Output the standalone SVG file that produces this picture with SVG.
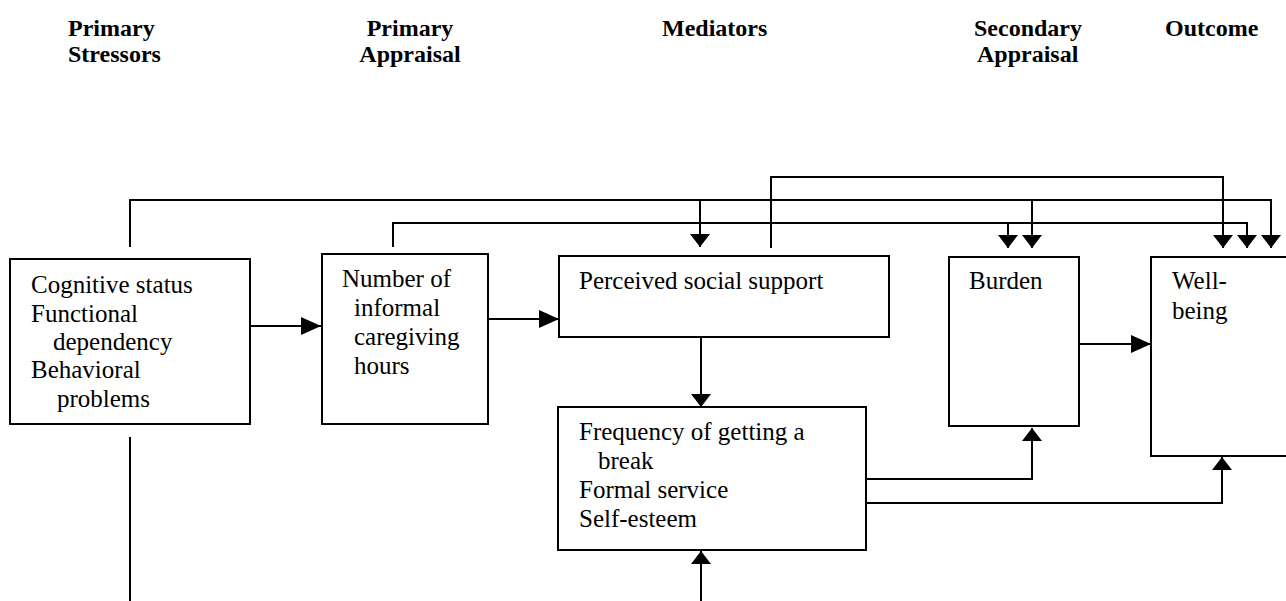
<svg xmlns="http://www.w3.org/2000/svg" width="1286" height="601" viewBox="0 0 1286 601">
<style>
.hd{font-family:"Liberation Serif","Times New Roman",serif;font-weight:bold;font-size:24px;fill:#000}
.tx{font-family:"Liberation Serif","Times New Roman",serif;font-size:25px;fill:#000}
.box{fill:#fff;stroke:#000;stroke-width:2}
.ln{fill:none;stroke:#000;stroke-width:2}
</style>
<defs>
<marker id="mh" markerUnits="userSpaceOnUse" markerWidth="20" markerHeight="18" viewBox="0 0 20 18" refX="20" refY="9" orient="auto"><path d="M0,0L20,9L0,18z" fill="#000"/></marker>
<marker id="mv" markerUnits="userSpaceOnUse" markerWidth="13" markerHeight="20" viewBox="0 0 13 20" refX="13" refY="10" orient="auto"><path d="M0,0L13,10L0,20z" fill="#000"/></marker>
</defs>
<g id="headers">
<text class="hd" x="68" y="36">Primary</text>
<text class="hd" x="68" y="62">Stressors</text>
<text class="hd" x="410" y="36" text-anchor="middle">Primary</text>
<text class="hd" x="410" y="62" text-anchor="middle">Appraisal</text>
<text class="hd" x="662" y="36">Mediators</text>
<text class="hd" x="974" y="36">Secondary</text>
<text class="hd" x="977" y="62">Appraisal</text>
<text class="hd" x="1165" y="36">Outcome</text>
</g>
<g id="node-stressors">
<rect class="box" x="10" y="259" width="240" height="165"/>
<text class="tx" x="31" y="293">Cognitive status</text>
<text class="tx" x="31" y="322">Functional</text>
<text class="tx" x="53" y="350">dependency</text>
<text class="tx" x="31" y="378">Behavioral</text>
<text class="tx" x="57" y="407">problems</text>
</g>
<g id="node-hours">
<rect class="box" x="322" y="254" width="166" height="170"/>
<text class="tx" x="342" y="287">Number of</text>
<text class="tx" x="354" y="316">informal</text>
<text class="tx" x="354" y="345">caregiving</text>
<text class="tx" x="354" y="374">hours</text>
</g>
<g id="node-support">
<rect class="box" x="559" y="256" width="330" height="81"/>
<text class="tx" x="579" y="289">Perceived social support</text>
</g>
<g id="node-mediators">
<rect class="box" x="558" y="407" width="308" height="143"/>
<text class="tx" x="579" y="440">Frequency of getting a</text>
<text class="tx" x="598" y="469">break</text>
<text class="tx" x="579" y="498">Formal service</text>
<text class="tx" x="579" y="527">Self-esteem</text>
</g>
<g id="node-burden">
<rect class="box" x="949" y="257" width="130" height="169"/>
<text class="tx" x="969" y="289">Burden</text>
</g>
<g id="node-wellbeing">
<rect class="box" x="1151" y="257" width="145" height="199"/>
<text class="tx" x="1172" y="289">Well-</text>
<text class="tx" x="1172" y="319">being</text>
</g>
<g id="connectors">
<path class="ln" d="M130,247V200H1271V248" marker-end="url(#mv)"/>
<path class="ln" d="M700,200V247" marker-end="url(#mv)"/>
<path class="ln" d="M1032,200V248" marker-end="url(#mv)"/>
<path class="ln" d="M393,247V223H1247V248" marker-end="url(#mv)"/>
<path class="ln" d="M1008,223V248" marker-end="url(#mv)"/>
<path class="ln" d="M771,248V177H1223V248" marker-end="url(#mv)"/>
<path class="ln" d="M250,326H321" marker-end="url(#mh)"/>
<path class="ln" d="M488,319H559" marker-end="url(#mh)"/>
<path class="ln" d="M701,337V407" marker-end="url(#mv)"/>
<path class="ln" d="M866,479H1032V428" marker-end="url(#mv)"/>
<path class="ln" d="M866,503H1222V457" marker-end="url(#mv)"/>
<path class="ln" d="M1079,344H1151" marker-end="url(#mh)"/>
<path class="ln" d="M130,437V601"/>
<path class="ln" d="M701,601V551" marker-end="url(#mv)"/>
</g>
</svg>
